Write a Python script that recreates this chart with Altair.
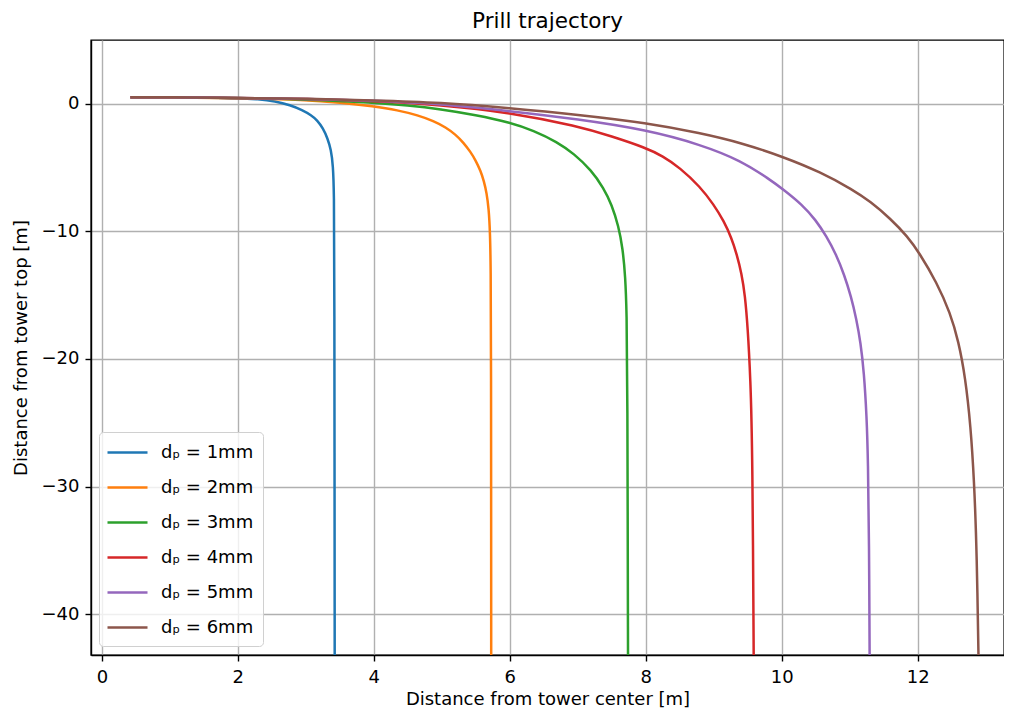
import altair as alt
import pandas as pd

labels = ["dₚ = 1mm", "dₚ = 2mm", "dₚ = 3mm", "dₚ = 4mm", "dₚ = 5mm", "dₚ = 6mm"]
colors = ["#1f77b4", "#ff7f0e", "#2ca02c", "#d62728", "#9467bd", "#8c564b"]

x1 = [0.42, 1.0, 1.6, 2.0, 2.3, 2.55, 2.77, 2.95, 3.08, 3.17, 3.25, 3.32, 3.37, 3.40, 3.415, 3.42, 3.425]
y1 = [0.52, 0.51, 0.48, 0.44, 0.36, 0.2, -0.1, -0.5, -0.9, -1.3, -1.9, -2.7, -3.6, -4.8, -7.0, -12.0, -45.0]

x2 = [0.42, 1.0, 2.0, 3.0, 3.5, 4.0, 4.35, 4.65, 4.88, 5.06, 5.2, 5.32, 5.42, 5.5, 5.57, 5.62, 5.66, 5.69, 5.71, 5.72, 5.725, 5.727]
y2 = [0.52, 0.51, 0.45, 0.3, 0.1, -0.2, -0.5, -0.9, -1.35, -1.85, -2.4, -3.05, -3.75, -4.45, -5.25, -6.05, -7.0, -8.2, -10.0, -13.0, -18.0, -45.0]

x3 = [0.42, 1.0, 2.0, 3.0, 4.0, 4.5, 4.98, 5.5, 6.0, 6.35, 6.7, 6.94, 7.2, 7.38, 7.5, 7.6, 7.66, 7.70, 7.72, 7.73, 7.74]
y3 = [0.52, 0.51, 0.46, 0.35, 0.1, -0.12, -0.42, -0.88, -1.45, -2.1, -3.0, -3.9, -5.2, -6.6, -7.9, -9.6, -11.3, -13.5, -16.5, -21.0, -45.0]

x4 = [0.42, 1.0, 2.0, 3.0, 4.0, 4.98, 6.0, 7.0, 7.5, 8.0, 8.25, 8.5, 8.8, 9.0, 9.15, 9.26, 9.34, 9.41, 9.46, 9.5, 9.54, 9.57, 9.59]
y4 = [0.52, 0.51, 0.46, 0.38, 0.22, -0.08, -0.68, -1.75, -2.55, -3.45, -4.1, -5.0, -6.5, -7.9, -9.2, -10.5, -11.8, -13.3, -15.0, -17.5, -21.5, -27.0, -45.0]

x5 = [0.42, 1.0, 2.0, 3.0, 4.0, 4.98, 6.0, 7.0, 8.02, 8.81, 9.4, 9.83, 10.02, 10.3, 10.5, 10.66, 10.8, 10.92, 11.02, 11.1, 11.16, 11.21, 11.25, 11.27, 11.285, 11.295]
y5 = [0.52, 0.51, 0.46, 0.4, 0.25, 0.0, -0.57, -1.2, -2.05, -3.2, -4.45, -5.95, -6.7, -7.9, -9.1, -10.4, -11.8, -13.4, -15.1, -16.9, -18.7, -21.0, -24.5, -28.0, -34.0, -45.0]

x6 = [0.42, 1.0, 2.0, 3.0, 4.0, 4.98, 6.0, 7.0, 8.02, 8.81, 9.4, 10.02, 10.57, 11.05, 11.3, 11.6, 11.85, 12.02, 12.28, 12.48, 12.6, 12.7, 12.78, 12.83, 12.87, 12.9]
y6 = [0.52, 0.51, 0.46, 0.4, 0.27, 0.1, -0.34, -0.85, -1.5, -2.3, -3.05, -4.15, -5.35, -6.75, -7.65, -9.0, -10.4, -11.65, -14.0, -16.4, -18.6, -21.4, -25.3, -29.5, -35.0, -45.0]

xs = [x1, x2, x3, x4, x5, x6]
ys = [y1, y2, y3, y4, y5, y6]

rows = []
for lab, xx, yy in zip(labels, xs, ys):
    for i, (a, b) in enumerate(zip(xx, yy)):
        rows.append({"label": lab, "x": a, "y": b, "i": i})
df = pd.DataFrame(rows)

FONT = "DejaVu Sans"

chart = (
    alt.Chart(df)
    .mark_line(strokeWidth=2.5, interpolate="basis", clip=True)
    .encode(
        x=alt.X(
            "x:Q",
            scale=alt.Scale(domain=[-0.16, 13.27], nice=False, zero=False),
            axis=alt.Axis(values=[0, 2, 4, 6, 8, 10, 12], title="Distance from tower center [m]",
                          format="d", labelPadding=7, titlePadding=4),
        ),
        y=alt.Y(
            "y:Q",
            scale=alt.Scale(domain=[-43.2, 5], nice=False, zero=False),
            axis=alt.Axis(values=[-40, -30, -20, -10, 0], title="Distance from tower top [m]",
                          format="d", labelPadding=6, titlePadding=11),
        ),
        color=alt.Color(
            "label:N",
            scale=alt.Scale(domain=labels, range=colors),
            legend=alt.Legend(
                title=None, orient="none", legendX=8, legendY=392,
                symbolType="M-1.2,0H2.8", symbolSize=400, symbolStrokeWidth=2.5,
                labelFontSize=18, labelFont=FONT, labelColor="black", labelOffset=30,
                fillColor="rgba(255,255,255,0.8)", strokeColor="#d0d0d0", cornerRadius=4,
                padding=9, rowPadding=14,
            ),
        ),
        order=alt.Order("i:Q"),
    )
    .properties(
        width=913,
        height=615,
        title=alt.TitleParams("Prill trajectory", fontSize=21.5, fontWeight="normal", font=FONT,
                              color="black", anchor="middle", offset=8),
        autosize=alt.AutoSizeParams(type="none"),
        padding={"left": 83, "top": 32, "right": 0, "bottom": 53},
    )
    .configure_view(stroke="black", strokeWidth=1.4)
    .configure_axis(
        grid=True, gridColor="#b0b0b0", gridWidth=1.4,
        domainColor="black", domainWidth=1.4,
        tickColor="black", tickWidth=1.4, tickSize=6,
        labelFont=FONT, labelFontSize=18, labelColor="black",
        titleFont=FONT, titleFontSize=18, titleFontWeight="normal", titleColor="black",
    )
)

chart.save("out.html", embed_options={"renderer": "svg", "actions": False})
